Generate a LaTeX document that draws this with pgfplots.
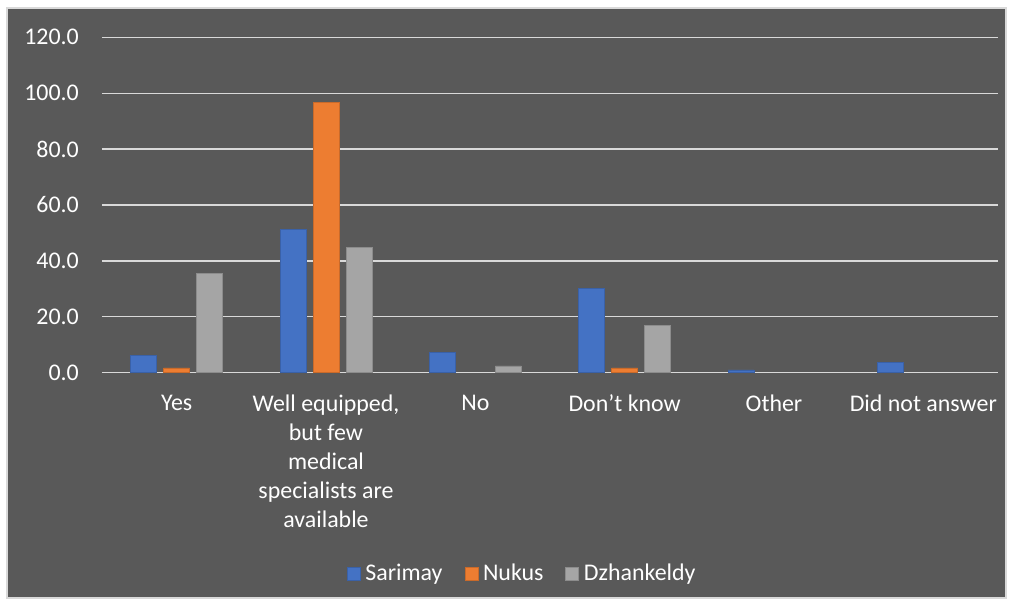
\documentclass[border=0pt]{standalone}
\usepackage{pgfplots}
\pgfplotsset{compat=1.18}
\usepackage{fontspec}
\setmainfont{Carlito}
\definecolor{bg}{HTML}{595959}
\definecolor{gridc}{HTML}{D9D9D9}
\definecolor{cA}{HTML}{4472C4}
\definecolor{cB}{HTML}{ED7D31}
\definecolor{cC}{HTML}{A5A5A5}
\begin{document}
\fontsize{24}{29}\selectfont
\begin{tikzpicture}
\fill[white] (-102bp,-232.3bp) rectangle (911bp,372.7bp);
\filldraw[fill=bg, draw=gridc, line width=1.2bp] (-95bp,-225.3bp) rectangle (904bp,364.7bp);
\begin{axis}[
  at={(0,0)}, anchor=south west,
  scale only axis, width=896bp, height=335.4bp,
  xmin=-0.5, xmax=5.5, ymin=0, ymax=120,
  ytick={0,20,...,120},
  y tick label style={/pgf/number format/fixed, /pgf/number format/fixed zerofill, /pgf/number format/precision=1, /pgf/number format/assume math mode=true, text=white, xshift=-15bp},
  xtick={0,...,5},
  xticklabels={Yes, {Well equipped,\\but few\\medical\\specialists are\\available}, No, Don’t know, Other, Did not answer},
  xticklabel style={text=white, align=center, anchor=north, yshift=-10bp},
  ybar=7bp, bar width=26bp,
  ymajorgrids, grid style={color=gridc, line width=1.3bp},
  axis line style={draw=none}, tick style={draw=none},
  legend columns=3,
  legend style={at={(0.469,-0.600)}, anchor=center, draw=none, fill=none, text=white,
    /tikz/every odd column/.append style={column sep=3bp},
    /tikz/every even column/.append style={column sep=20bp}},
  legend image code/.code={\fill[#1] (0bp,-6.5bp) rectangle (13bp,6.5bp);},
]
\addplot[fill=cA, draw=cA!85!black, line width=0.5bp] coordinates {(0,6.1) (1,51.4) (2,7.3) (3,30.3) (4,1.0) (5,3.6)};
\addplot[fill=cB, draw=cB!85!black, line width=0.5bp] coordinates {(0,1.7) (1,96.6) (3,1.7)};
\addplot[fill=cC, draw=cC!85!black, line width=0.5bp] coordinates {(0,35.6) (1,44.9) (2,2.4) (3,17.0)};
\legend{Sarimay, Nukus, Dzhankeldy}
\end{axis}
\pgfresetboundingbox
\useasboundingbox (-102bp,-232.3bp) rectangle (911bp,372.7bp);
\end{tikzpicture}
\end{document}
